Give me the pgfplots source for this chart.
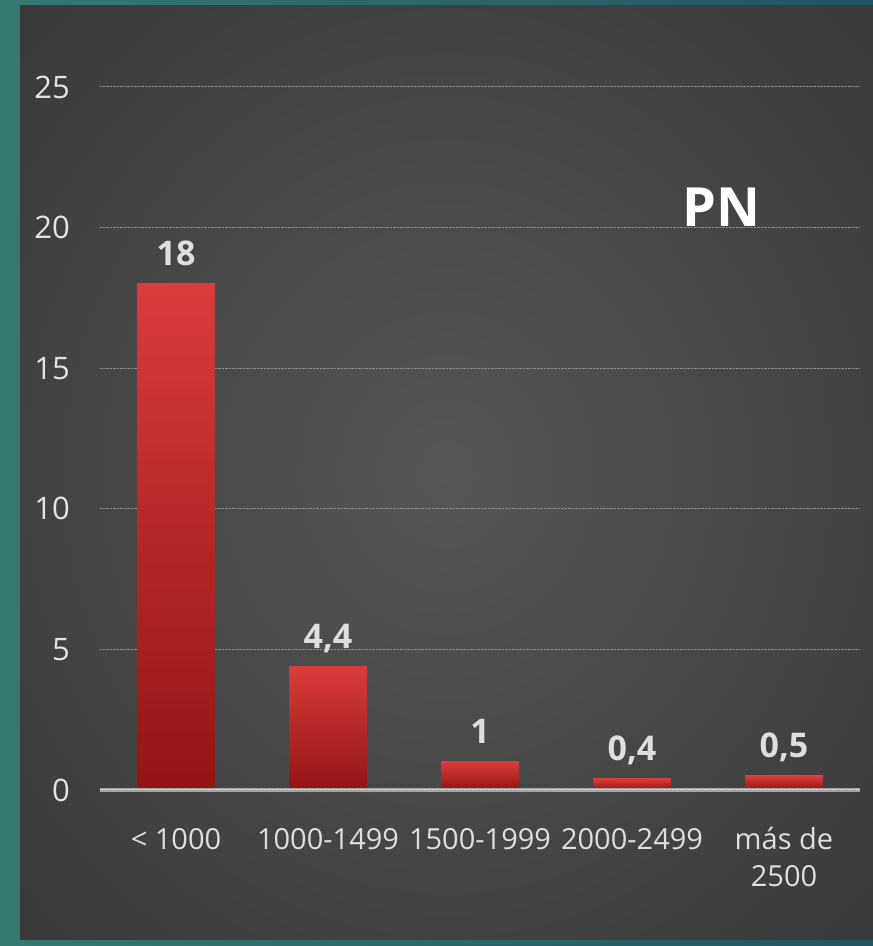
\documentclass[border=0pt]{standalone}
\usepackage{fontspec}
\setmainfont{Open Sans}
\usepackage{pgfplots}
\pgfplotsset{compat=1.18}

\definecolor{tealA}{HTML}{367A72}
\definecolor{tealB}{HTML}{1F5560}
\definecolor{panelIn}{HTML}{575757}
\definecolor{panelMid}{HTML}{3D3D3D}
\definecolor{panelOut}{HTML}{292929}
\definecolor{barTop}{HTML}{DA3B3B}
\definecolor{barBot}{HTML}{931414}
\definecolor{labelgray}{HTML}{DEDEDE}
\definecolor{gridgray}{HTML}{8C8C8C}
\definecolor{zerogray}{HTML}{A6A6A6}

\pgfdeclareradialshading{panel}{\pgfpoint{0bp}{0bp}}{%
  color(0bp)=(panelIn); color(30bp)=(panelMid); color(72bp)=(panelOut)}

\pgfplotsset{
  redbar/.style={ybar, bar width=78pt, bar shift=0pt, draw=none,
    top color=barTop, bottom color=barBot,
    nodes near coords, point meta=explicit symbolic,
    every node near coord/.append style={font=\bfseries\fontsize{34}{38}\selectfont,
      text=labelgray, text depth=0pt, inner sep=0pt, anchor=south, yshift=18pt}},
}

\begin{document}
\begin{tikzpicture}[x=1pt,y=1pt]
% slide background
\shade[left color=tealA, right color=tealB] (0,0) rectangle (873,946);
\shade[shading=panel] (20,6) rectangle (873,940);

\begin{axis}[
    at={(100pt,156pt)}, anchor=south west,
    scale only axis,
    width=760pt, height=703pt,
    xmin=-0.5, xmax=4.5,
    ymin=0, ymax=25,
    ytick={0,5,10,15,20,25},
    xtick={0,1,2,3,4},
    xticklabels={{< 1000},{1000-1499},{1500-1999},{2000-2499},
      {\begin{tabular}[t]{@{}c@{}}más de\\2500\end{tabular}}},
    axis line style={draw=none},
    major tick length=0pt,
    tick style={draw=none},
    ymajorgrids,
    major grid style={gridgray, densely dotted, line width=1pt},
    /pgf/number format/assume math mode=true,
    yticklabel style={font=\fontsize{31}{36}\selectfont, text=labelgray!85, inner sep=0pt, xshift=-30pt, anchor=east},
    xticklabel shift=0pt,
    xticklabel style={font=\fontsize{29}{37}\selectfont, text=labelgray, inner sep=0pt, anchor=base, yshift=-59pt},
    clip=false,
]
% one plot per bar so that each bar gets its own gradient
\addplot[redbar] coordinates {(0,18) [18]};
\addplot[redbar] coordinates {(1,4.4) [{4,4}]};
\addplot[redbar] coordinates {(2,1) [1]};
\addplot[redbar] coordinates {(3,0.4) [{0,4}]};
\addplot[redbar] coordinates {(4,0.5) [{0,5}]};
\draw[zerogray, line width=3.5pt] (axis cs:-0.5,0) -- (axis cs:4.5,0);
\draw[white!85!gray, densely dotted, line width=1pt] (axis cs:-0.5,0) -- (axis cs:4.5,0);
\node[font=\bfseries\fontsize{54}{60}\selectfont, text=white, text depth=0pt, inner sep=0pt, anchor=base] at (axis cs:3.59,20.05) {PN};
\end{axis}
\end{tikzpicture}
\end{document}
